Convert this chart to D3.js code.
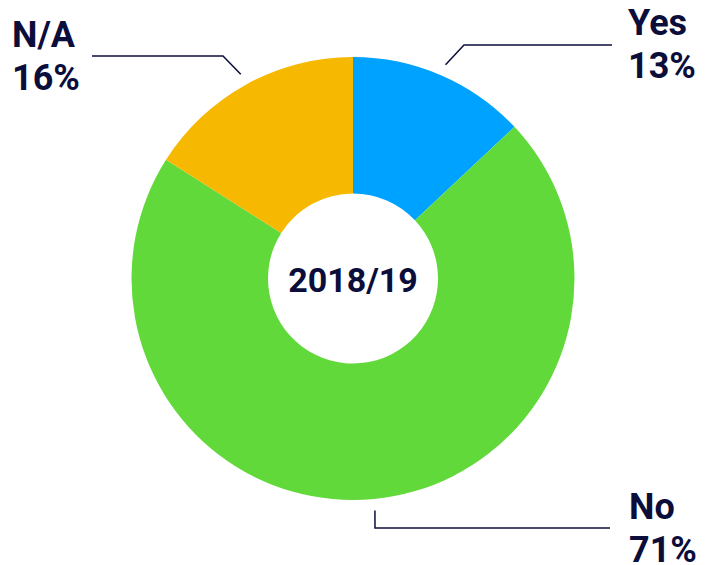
<!DOCTYPE html>
<html>
<head>
<meta charset="utf-8">
<script src="https://cdn.jsdelivr.net/npm/d3@7"></script>
<style>
  body { margin: 0; background: #fff; }
  svg { display: block; font-family: Roboto, "Noto Sans", sans-serif; }
</style>
</head>
<body>
<svg id="chart" width="705" height="565"></svg>
<script>
// data
const categories = ["Yes", "No", "N/A"];
const values = [13, 71, 16];
const centerLabel = "2018/19";

const colors = ["#00a2ff", "#62d93a", "#f7b801"];
const textColor = "#0b0d3a";

width = 705;
height = 565;
cx = 353;
cy = 278.5;
outerR = 221.5;
innerR = 85;
leaderR = 233;

// where each label's leader line bends and ends (layout only)
const labelLayout = [
  {elbow: [464, 45], endX: 612, textX: 628, textY: 35},
  {elbow: [375, 528], endX: 610, textX: 629, textY: 519},
  {elbow: [223, 56], endX: 92, textX: 12, textY: 47}
];

const svg = d3.select("#chart");
const g = svg.append("g").attr("transform", `translate(${cx},${cy})`);

const pie = d3.pie().sort(null).value(d => d.value);
const arcs = pie(categories.map((c, i) => ({name: c, value: values[i]})));
const arc = d3.arc().innerRadius(innerR).outerRadius(outerR);

g.selectAll(".slice")
  .data(arcs)
  .enter().append("path")
    .attr("class", "slice")
    .attr("d", arc)
    .style("fill", (d, i) => colors[i]);

g.append("text")
  .attr("x", 0)
  .attr("y", 13)
  .attr("text-anchor", "middle")
  .style("font-size", "34px")
  .style("font-weight", "bold")
  .style("fill", textColor)
  .text(centerLabel);

// leader lines + labels
const line = d3.line();
arcs.forEach((d, i) => {
  const mid = (d.startAngle + d.endAngle) / 2;
  const start = [cx + leaderR * Math.sin(mid), cy - leaderR * Math.cos(mid)];
  const L = labelLayout[i];
  svg.append("path")
    .attr("d", line([start, L.elbow, [L.endX, L.elbow[1]]]))
    .attr("fill", "none")
    .attr("stroke", textColor)
    .attr("stroke-width", 1.5);

  const t = svg.append("text")
    .attr("x", L.textX)
    .attr("y", L.textY)
    .style("font-size", "36px")
    .style("font-weight", "bold")
    .style("fill", textColor);
  t.append("tspan").attr("x", L.textX).text(d.data.name);
  t.append("tspan").attr("x", L.textX).attr("dy", 43).text(d.data.value + "%");
});
</script>
</body>
</html>
